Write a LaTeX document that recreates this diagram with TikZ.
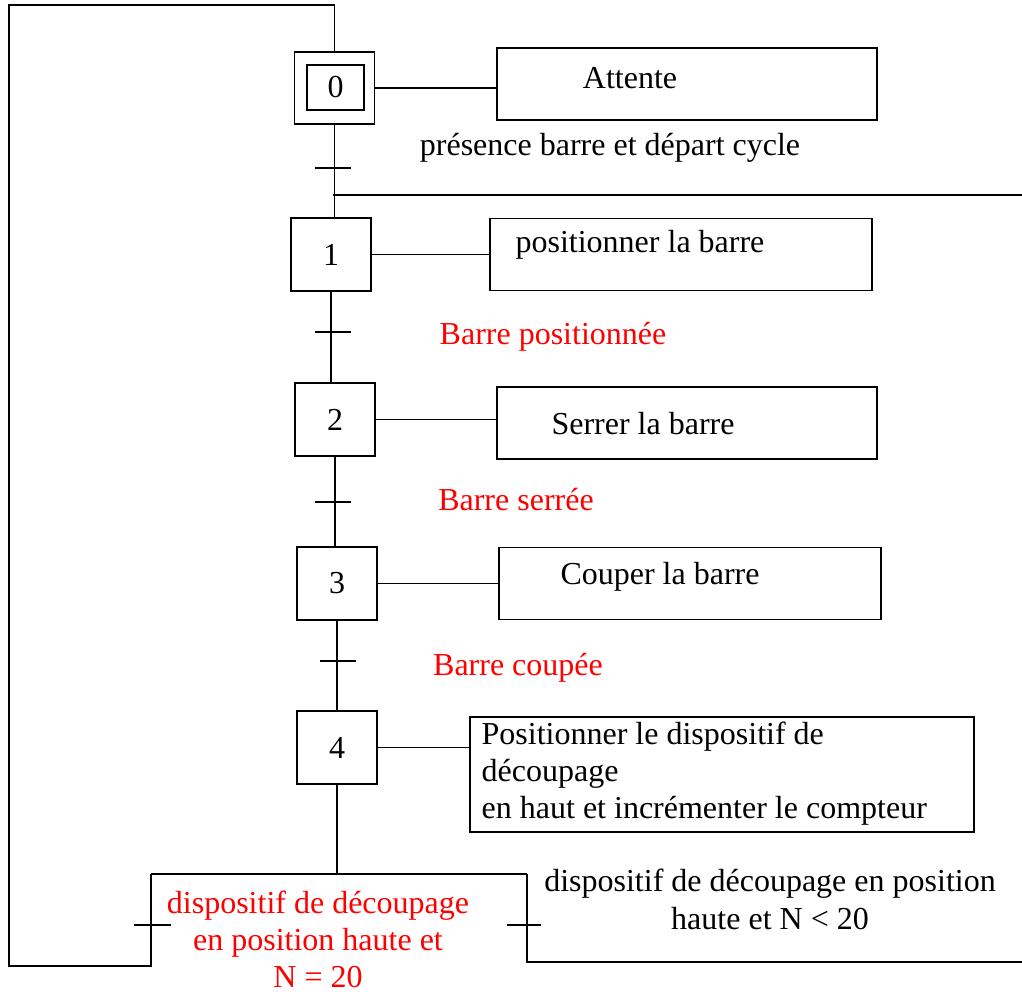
\documentclass[tikz,border=0pt]{standalone}
\usepackage{fontspec}
\setmainfont{Liberation Serif}
\usetikzlibrary{positioning, calc}
\definecolor{grafred}{RGB}{255, 0, 0}

\begin{document}
\begin{tikzpicture}[x=0.5pt, y=-0.5pt, line width=0.7pt,
    every node/.style={font=\fontsize{16}{18.5}\selectfont, inner sep=0pt},
    stepbox/.style={draw, minimum width=40pt, minimum height=36.5pt},
    actbox/.style={draw, minimum height=36pt},
    cond/.style={text=grafred}]
    \useasboundingbox (0,0) rectangle (1022,991);

    % steps
    \node[stepbox, minimum height=36pt] (s0) at (334.5,88) {};
    \node[draw, minimum width=28.5pt, minimum height=22.5pt] (s0i) at (335.5,87.5) {0};
    \node[stepbox] (s1) at (331,254.5) {1};
    \node[stepbox] (s2) at (335,419.5) {2};
    \node[stepbox] (s3) at (337,583.5) {3};
    \node[stepbox] (s4) at (337,747.5) {4};

    % actions
    \node[actbox, minimum width=190pt] (a0) at (687,84) {};
    \node at (630,78) {Attente};
    \node[actbox, minimum width=191pt] (a1) at (681,254.5) {};
    \node at (640,245) {positionner la barre};
    \node[actbox, minimum width=190pt] (a2) at (687,423) {};
    \node at (643,424) {Serrer la barre};
    \node[actbox, minimum width=191pt] (a3) at (690,583.5) {};
    \node at (660,577) {Couper la barre};
    \node[actbox, minimum width=252pt, minimum height=57.5pt] (a4) at (722,774.5) {};
    \node[anchor=west, align=left] at (481,774) {Positionner le dispositif de\\d\'ecoupage\\en haut et incr\'ementer le compteur};

    % receptivities
    \node at (610,148) {pr\'esence barre et d\'epart cycle};
    \node[cond] at (553,337) {Barre positionn\'ee};
    \node[cond] at (516,500) {Barre serr\'ee};
    \node[cond] at (518,668) {Barre coup\'ee};
    \node[cond, align=center] at (318,939) {dispositif de d\'ecoupage\\en position haute et\\N = 20};
    \node[align=center, font=\fontsize{16}{19}\selectfont] at (770,899) {dispositif de d\'ecoupage en position\\haute et N < 20};

    \coordinate (t0) at (333,168);
    \coordinate (t1) at (333,332);
    \coordinate (t2) at (333,502);
    \coordinate (t3) at (338,661);
    \coordinate (j0) at (333,195);
    \coordinate (nextR) at (1022,195);
    \coordinate (divL) at (151,874);
    \coordinate (divR) at (527,874);
    \coordinate (tL) at (151,925);
    \coordinate (tR) at (527,925);
    \coordinate (retL) at (9,966);
    \coordinate (retT) at (9,5);
    \coordinate (endR) at (1022,962);

    % links
    \draw (s0.south) -- (s0.south |- s1.north);
    \draw (s1.south) -- (s1.south |- s2.north);
    \draw (s2.south) -- (s2.south |- s3.north);
    \draw (s3.south) -- (s3.south |- s4.north);
    \draw (s4.south) -- (s4.south |- divL);
    \draw (j0) -- (nextR);
    \foreach \s in {0,...,4}
      \draw (s\s.east) -- (s\s.east -| a\s.west);

    % transitions
    \foreach \t in {t0,t1,t2,t3}
      \draw ([xshift=-9pt]\t) -- ([xshift=9pt]\t);
    \draw ([xshift=-8.5pt]tL) -- ([xshift=10pt]tL);
    \draw ([xshift=-10pt]tR) -- ([xshift=7pt]tR);

    % divergence and loop back
    \draw (divL) -- (divR);
    \draw (divL) -- (divL |- retL) -- (retL) -- (retT) -| (s0.north);
    \draw (divR) |- (endR);
  \end{tikzpicture}
\end{document}
